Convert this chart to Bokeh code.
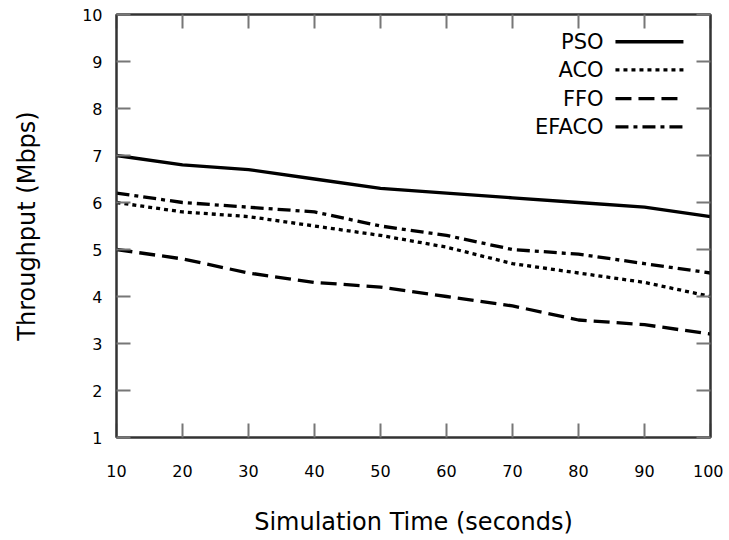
from bokeh.plotting import figure
from bokeh.models import LinearAxis, FixedTicker, Range1d
from bokeh.core.properties import value
from bokeh.embed import file_html
from bokeh.resources import INLINE

# ---- data ----
sim_time = [10, 20, 30, 40, 50, 60, 70, 80, 90, 100]
pso = [7.0, 6.8, 6.7, 6.5, 6.3, 6.2, 6.1, 6.0, 5.9, 5.7]
aco = [6.0, 5.8, 5.7, 5.5, 5.3, 5.05, 4.7, 4.5, 4.3, 4.0]
ffo = [5.0, 4.8, 4.5, 4.3, 4.2, 4.0, 3.8, 3.5, 3.4, 3.2]
efaco = [6.2, 6.0, 5.9, 5.8, 5.5, 5.3, 5.0, 4.9, 4.7, 4.5]
series_names = ["PSO", "ACO", "FFO", "EFACO"]
x_ticks = [10, 20, 30, 40, 50, 60, 70, 80, 90, 100]
y_ticks = [1, 2, 3, 4, 5, 6, 7, 8, 9, 10]

FONT = "DejaVu Sans"
dashes = ["solid", "4 4", "16 7", "13 5 4 5"]

p = figure(width=723, height=538, x_range=Range1d(10, 100), y_range=Range1d(1, 10),
           output_backend="svg", toolbar_location=None,
           min_border_left=116, min_border_right=13, min_border_top=14, min_border_bottom=101,
           x_axis_label="Simulation Time (seconds)", y_axis_label="Throughput (Mbps)")
p.grid.visible = False
p.outline_line_color = "#333333"
p.outline_line_width = 2
p.background_fill_color = "white"
p.border_fill_color = "white"

def style_axis(ax, ticks, show_labels=True):
    ax.ticker = FixedTicker(ticks=ticks)
    ax.axis_line_color = "#333333"
    ax.axis_line_width = 2
    ax.major_tick_in = 14
    ax.major_tick_out = 0
    ax.major_tick_line_color = "#777777"
    ax.major_tick_line_width = 2
    ax.minor_tick_line_color = None
    ax.major_label_text_font = FONT
    ax.major_label_text_color = "black"
    ax.axis_label_text_font = FONT
    ax.axis_label_text_font_style = "normal"
    ax.axis_label_text_color = "black"
    ax.axis_label_text_font_size = "24px"
    ax.major_label_text_font_size = "16px"
    if not show_labels:
        ax.major_label_overrides = {t: "" for t in ticks}
        ax.major_label_standoff = 0

style_axis(p.xaxis[0], x_ticks)
style_axis(p.yaxis[0], y_ticks)
p.xaxis[0].major_label_standoff = 27
p.xaxis[0].axis_label_standoff = 28
p.yaxis[0].major_label_standoff = 14
p.yaxis[0].axis_label_standoff = 38

top = LinearAxis()
style_axis(top, x_ticks, show_labels=False)
p.add_layout(top, "above")
right = LinearAxis()
style_axis(right, y_ticks, show_labels=False)
p.add_layout(right, "right")

all_series = [pso, aco, ffo, efaco]
for ys, dash in zip(all_series, dashes):
    p.line(sim_time, ys, line_color="black", line_width=3.3, line_dash=dash, line_join="round")

# legend (gnuplot style: right-aligned label, sample to the right)
leg_text_x = 83.8
leg_x0, leg_x1 = 85.6, 95.9
leg_rows = [9.42, 8.82, 8.21, 7.61]
for name, dash, yy in zip(series_names, dashes, leg_rows):
    p.text(x=[leg_text_x], y=[yy], text=[name], text_align="right", text_baseline="middle",
           text_font=value(FONT), text_font_size="21px", text_color="black")
    p.line([leg_x0, leg_x1], [yy, yy], line_color="black", line_width=3.3, line_dash=dash)

open("out.html", "w").write(file_html(p, INLINE))
